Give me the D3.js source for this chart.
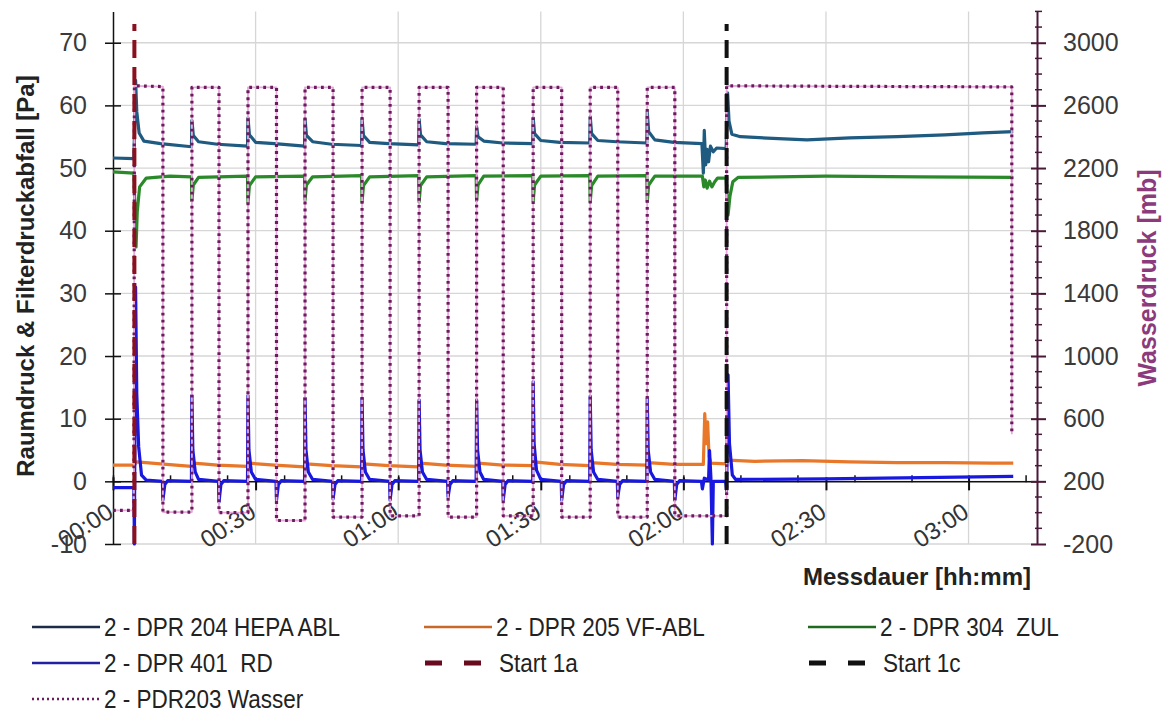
<!DOCTYPE html>
<html><head><meta charset="utf-8">
<script src="https://cdn.jsdelivr.net/npm/d3@7"></script>
<style>
html,body{margin:0;padding:0;background:#fff;}
svg{display:block;font-family:"Liberation Sans",Arial,sans-serif;}
</style></head>
<body><svg id="c" width="1163" height="716"></svg>
<script>
// ---- data (time in minutes since 00:00) ----
const xTickMinutes = [0, 30, 60, 90, 120, 150, 180];
const xTickLabels = ["00:00", "00:30", "01:00", "01:30", "02:00", "02:30", "03:00"];
const xMinorMinutes = [0, 12, 24, 36, 48, 60, 72, 84, 96, 108, 120, 132, 144, 156, 168, 180, 192];
const leftTicks = [-10, 0, 10, 20, 30, 40, 50, 60, 70];
const rightTicks = [-200, 200, 600, 1000, 1400, 1800, 2200, 2600, 3000];
const rightMinor = [-100, 0, 100, 300, 400, 500, 700, 800, 900, 1100, 1200, 1300, 1500, 1600, 1700, 1900, 2000, 2100, 2300, 2400, 2500, 2700, 2800, 2900, 3100, 3200];

const hepaABL = [[0,51.6],[4.4,51.5],[4.75,64.0],[5.0,59.0],[5.5,55.6],[6.5,54.3],[10.0,53.9],[16.5,53.4],
[16.6,57.6],[16.9,55.2],[18.0,54.2],[22.0,53.8],[28.3,53.5],
[28.4,58.0],[28.7,55.3],[30.0,54.1],[34.0,53.9],[40.3,53.5],
[40.4,57.8],[40.7,55.2],[42.0,54.2],[46.0,53.8],[52.3,53.6],
[52.4,57.8],[52.7,55.2],[54.0,54.1],[58.0,53.9],[64.3,53.7],
[64.4,57.8],[64.7,55.3],[66.0,54.2],[70.0,53.9],[76.4,53.8],
[76.5,56.6],[76.8,55.0],[78.0,54.3],[82.0,54.0],[88.3,53.9],
[88.4,58.0],[88.7,55.5],[90.0,54.4],[94.0,54.1],[100.3,54.0],
[100.4,58.2],[100.7,55.5],[102.0,54.4],[106.0,54.2],[112.3,54.0],
[112.4,59.0],[112.7,55.8],[114.0,54.5],[118.0,54.1],[123.9,53.9],
[124.2,49.2],[124.4,56.0],[124.7,50.5],[125.0,53.0],[125.3,51.0],[125.7,53.5],[126.3,52.6],[127.0,53.2],[129.0,53.1],
[129.3,62.0],[129.6,57.5],[130.2,55.4],[132.0,55.0],[140.0,54.7],[146.0,54.5],[155.0,54.8],[165.0,55.0],[175.0,55.3],[183.0,55.6],[189.4,55.8]];

const vfABL = [[0,2.6],[4.5,2.6],[5.0,3.1],[10.0,2.8],[16.5,2.4],[17.0,2.9],[22.0,2.6],[28.3,2.4],[28.6,2.9],[34.0,2.6],
[40.3,2.3],[40.6,2.8],[46.0,2.5],[52.3,2.3],[52.6,2.8],[58.0,2.5],[64.3,2.3],[64.6,2.9],[70.0,2.6],[76.4,2.4],[76.7,2.9],
[82.0,2.6],[88.3,2.5],[88.6,3.1],[94.0,2.7],[100.3,2.5],[100.6,3.0],[106.0,2.7],[112.3,2.6],[112.6,3.0],[118.0,2.7],
[124.2,2.7],[124.5,10.8],[124.8,6.0],[125.1,9.5],[125.4,4.0],[125.8,2.9],[129.0,2.8],[129.3,3.4],[135.0,3.2],[145.0,3.3],
[155.0,3.1],[165.0,3.0],[175.0,3.0],[185.0,2.9],[189.4,2.9]];

const zul = [[0,49.4],[4.4,49.2],[4.85,37.4],[5.1,43.0],[5.6,47.0],[7.0,48.4],[12.0,48.7],[16.5,48.6],
[16.6,44.8],[16.9,47.3],[18.0,48.5],[28.3,48.7],
[28.4,44.5],[28.7,47.2],[30.0,48.6],[40.3,48.7],
[40.4,44.9],[40.7,47.3],[42.0,48.6],[52.3,48.8],
[52.4,44.6],[52.7,47.2],[54.0,48.6],[64.3,48.8],
[64.4,44.6],[64.7,47.2],[66.0,48.6],[76.4,48.8],
[76.5,44.8],[76.8,47.3],[78.0,48.7],[88.3,48.8],
[88.4,44.7],[88.7,47.3],[90.0,48.7],[100.3,48.8],
[100.4,44.6],[100.7,47.2],[102.0,48.7],[112.3,48.8],
[112.4,44.6],[112.7,47.3],[114.0,48.7],[124.0,48.7],
[124.3,47.0],[124.6,48.1],[125.0,46.8],[125.5,47.9],[126.0,47.0],[126.6,47.8],[127.2,48.4],[129.0,48.4],
[129.4,42.5],[129.8,45.5],[130.4,47.8],[131.5,48.5],[150.0,48.7],[170.0,48.6],[189.4,48.5]];

const rd = [[0,-1.0],[4.4,-1.0],[4.5,-10.0],[4.75,31.0],[5.0,14.0],[5.4,5.5],[6.0,1.0],[7.0,0.2],[10.4,0.0],
[10.5,-3.0],[10.9,-0.5],[11.5,0.1],[16.5,0.0],
[16.6,13.7],[16.8,5.0],[17.3,1.5],[18.0,0.3],[22.2,0.0],
[22.3,-3.3],[22.7,-0.5],[23.3,0.1],[28.3,0.0],
[28.4,13.7],[28.6,5.0],[29.1,1.5],[30.0,0.3],[34.3,0.0],
[34.4,-3.0],[34.8,-0.5],[35.4,0.1],[40.3,0.0],
[40.4,13.3],[40.6,5.0],[41.1,1.5],[42.0,0.3],[46.2,0.0],
[46.3,-2.8],[46.7,-0.5],[47.3,0.1],[52.3,0.0],
[52.4,13.3],[52.6,5.0],[53.1,1.5],[54.0,0.3],[58.2,0.0],
[58.3,-3.0],[58.7,-0.5],[59.3,0.1],[64.3,0.0],
[64.4,13.0],[64.6,5.0],[65.1,1.5],[66.0,0.3],[70.4,0.0],
[70.5,-2.5],[70.9,-0.5],[71.5,0.1],[76.4,0.0],
[76.5,13.0],[76.7,5.0],[77.2,1.5],[78.0,0.3],[82.0,0.0],
[82.1,-3.0],[82.5,-0.5],[83.1,0.1],[88.3,0.0],
[88.4,15.9],[88.6,6.0],[89.1,1.8],[90.0,0.3],[94.3,0.0],
[94.4,-3.0],[94.8,-0.5],[95.4,0.1],[100.3,0.0],
[100.4,13.6],[100.6,5.0],[101.1,1.5],[102.0,0.3],[106.1,0.0],
[106.2,-2.5],[106.6,-0.5],[107.2,0.1],[112.3,0.0],
[112.4,13.3],[112.6,5.0],[113.1,1.5],[114.0,0.3],[118.1,0.0],
[118.2,-3.0],[118.6,-0.5],[119.2,0.1],[123.8,0.0],
[124.0,-1.2],[124.4,0.5],[125.3,0.2],[125.5,4.9],[125.8,0.5],[126.1,-10.0],[126.3,0.0],[128.9,0.0],
[129.1,-1.5],[129.4,17.0],[129.7,6.0],[130.3,1.0],[131.0,0.3],[150.0,0.4],[170.0,0.6],[189.4,0.8]];

const wasser = [[0,15],[4.4,15],[4.5,2725],[10.5,2720],[10.5,4],[16.6,4],[16.6,2715],[22.3,2715],[22.3,0],[28.4,0],
[28.4,2715],[34.4,2715],[34.4,-50],[40.4,-50],[40.4,2715],[46.3,2715],[46.3,-28],[52.4,-28],[52.4,2715],[58.3,2715],
[58.3,-20],[64.4,-20],[64.4,2715],[70.5,2715],[70.5,-28],[76.5,-28],[76.5,2715],[82.1,2715],[82.1,-20],[88.4,-20],
[88.4,2715],[94.4,2715],[94.4,-28],[100.4,-28],[100.4,2715],[106.2,2715],[106.2,-28],[112.4,-28],[112.4,2715],[118.2,2715],
[118.2,-20],[129.1,-20],[129.1,2725],[150,2722],[170,2720],[189.1,2718],[189.1,500]];

const startTimes = [4.5, 129.1];
const startRange = [-10, 73];

const legendLabels = ["2 - DPR 204 HEPA ABL", "2 - DPR 205 VF-ABL", "2 - DPR 304  ZUL",
                      "2 - DPR 401  RD", "Start 1a", "Start 1c", "2 - PDR203 Wasser"];

// ---- layout ----
const svg = d3.select("#c");
const x = d3.scaleLinear([0, 194.4], [113, 1037]);
const yL = d3.scaleLinear([-10, 75], [544, 11.4]);
const yR = d3.scaleLinear([-200, 3200], [544, 11.4]);
const plainNum = d => String(d);

const col = {hepa:"#1f5a80", vf:"#e8772a", zul:"#2a8a2a", rd:"#1818e0", s1a:"#8a1020", s1c:"#111", w:"#6e1a5e", wHalo:"#e7a9dc"};

// grid
svg.append("g").selectAll("line").data(leftTicks).join("line")
  .attr("x1", x(0)).attr("x2", x(194.4)).attr("y1", d=>yL(d)).attr("y2", d=>yL(d))
  .attr("stroke", "#d6d6d6").attr("stroke-width", 1.3);
svg.append("g").selectAll("line").data(xTickMinutes.slice(1)).join("line")
  .attr("x1", d=>x(d)).attr("x2", d=>x(d)).attr("y1", yL(75)).attr("y2", yL(-10))
  .attr("stroke", "#d6d6d6").attr("stroke-width", 1.3);

// x axis at y=0
const gx = svg.append("g").attr("transform", `translate(0,${yL(0)})`)
  .call(d3.axisBottom(x).tickValues(xMinorMinutes).tickFormat("").tickSize(0).tickSizeOuter(0));
gx.select(".domain").attr("stroke", "#111").attr("stroke-width", 1.5);
gx.selectAll(".tick line").attr("y1", -6).attr("y2", 1).attr("stroke", "#111").attr("stroke-width", 1.5);
const gxM = svg.append("g").attr("transform", `translate(0,${yL(0)})`)
  .call(d3.axisBottom(x).tickValues(xTickMinutes).tickFormat("").tickSize(9).tickSizeOuter(0));
gxM.select(".domain").remove();
gxM.selectAll(".tick line").attr("y1", -4).attr("stroke", "#111").attr("stroke-width", 2);

// x tick labels (bottom, rotated)
svg.append("g").selectAll("text").data(xTickMinutes).join("text")
  .attr("transform", d=>`translate(${x(d)+2},516) rotate(-33)`)
  .attr("text-anchor", "end").attr("font-size", 24).attr("fill", "#333")
  .text((d,i)=>xTickLabels[i]);

// left axis
const gl = svg.append("g").attr("transform", `translate(${x(0)},0)`)
  .call(d3.axisLeft(yL).tickValues(leftTicks).tickFormat(plainNum).tickSize(8).tickPadding(18).tickSizeOuter(0));
gl.select(".domain").attr("stroke", "#111").attr("stroke-width", 1.5);
gl.selectAll(".tick line").attr("x2", -8).attr("x1", 8).attr("stroke", "#111").attr("stroke-width", 1.5);
gl.selectAll(".tick text").attr("font-size", 25).attr("fill", "#3a3a3a").attr("font-family", "Liberation Sans, Arial");

// right axis
const gr = svg.append("g").attr("transform", `translate(${x(194.4)},0)`)
  .call(d3.axisRight(yR).tickValues(rightTicks).tickFormat(plainNum).tickSize(8).tickPadding(18).tickSizeOuter(0));
gr.select(".domain").attr("stroke", "#4a1838").attr("stroke-width", 2);
gr.selectAll(".tick line").attr("x1", -6).attr("x2", 9).attr("stroke", "#4a1838").attr("stroke-width", 2);
gr.selectAll(".tick text").attr("font-size", 25).attr("fill", "#3a3a3a").attr("font-family", "Liberation Sans, Arial");
svg.append("g").selectAll("line").data(rightMinor).join("line")
  .attr("x1", x(194.4)-2).attr("x2", x(194.4)+5).attr("y1", d=>yR(d)).attr("y2", d=>yR(d))
  .attr("stroke", "#4a1838").attr("stroke-width", 1.5);

// axis titles
svg.append("text").attr("transform", "translate(34,276) rotate(-90)").attr("text-anchor", "middle")
  .attr("font-size", 24).attr("font-weight", "bold").attr("fill", "#222")
  .text("Raumdruck & Filterdruckabfall [Pa]");
svg.append("text").attr("transform", "translate(1156,278) rotate(-90)").attr("text-anchor", "middle")
  .attr("font-size", 25).attr("font-weight", "bold").attr("fill", "#8b3a7b")
  .text("Wasserdruck [mb]");
svg.append("text").attr("x", 1031).attr("y", 585).attr("text-anchor", "end")
  .attr("font-size", 24).attr("font-weight", "bold").attr("fill", "#222")
  .text("Messdauer [hh:mm]");

// series
const lineL = d3.line().x(d=>x(d[0])).y(d=>yL(d[1]));
const lineR = d3.line().x(d=>x(d[0])).y(d=>yR(d[1]));
const plot = svg.append("g").attr("fill", "none").attr("stroke-linejoin", "round");
plot.append("path").attr("d", lineL(hepaABL)).attr("stroke", col.hepa).attr("stroke-width", 3.2);
plot.append("path").attr("d", lineL(vfABL)).attr("stroke", col.vf).attr("stroke-width", 3.2);
plot.append("path").attr("d", lineL(zul)).attr("stroke", col.zul).attr("stroke-width", 3.2);
plot.append("path").attr("d", lineL(rd)).attr("stroke", col.rd).attr("stroke-width", 3.2);
plot.append("path").attr("d", lineR(wasser)).attr("stroke", col.wHalo).attr("stroke-width", 1.8);
plot.append("path").attr("d", lineR(wasser)).attr("stroke", col.w).attr("stroke-width", 3.2)
  .attr("stroke-dasharray", "2.8,4.2");
// start markers
plot.selectAll("line.start").data(startTimes).join("line").attr("class", "start")
  .attr("x1", d=>x(d)).attr("x2", d=>x(d)).attr("y1", yL(startRange[0])).attr("y2", yL(startRange[1]))
  .attr("stroke", (d,i)=> i===0 ? col.s1a : col.s1c).attr("stroke-width", 4).attr("stroke-dasharray", "18,9");

// legend
const legendStyles = [
  {c:"#1b2b48", dash:null, w:2.5}, {c:"#c8692a", dash:null, w:2.5}, {c:"#1e6a1e", dash:null, w:2.5},
  {c:"#2222a0", dash:null, w:2.5}, {c:"#6a0a1e", dash:"17,22", w:5}, {c:"#111", dash:"17,22", w:5},
  {c:"#6e1a5e", dash:"2,3", w:2.5}];
const legCols = [32, 424, 808], legRows = [627, 663, 699];
const lg = svg.append("g");
legendLabels.forEach((lab, i) => {
  const cx = legCols[i % 3], cy = legRows[Math.floor(i / 3)];
  const s = legendStyles[i];
  const isDash = s.dash && s.w > 3;
  lg.append("line").attr("x1", cx + (isDash ? 1 : 0)).attr("x2", cx + (isDash ? 57 : 68)).attr("y1", cy).attr("y2", cy)
    .attr("stroke", s.c).attr("stroke-width", s.w).attr("stroke-dasharray", s.dash);
  const t = lg.append("text").attr("x", cx + (isDash ? 75 : 72)).attr("y", cy).attr("dy", "0.36em")
    .attr("font-size", 25).attr("fill", "#222").style("white-space", "pre").attr("xml:space", "preserve").text(lab);
  const len = t.node().getComputedTextLength();
  t.attr("textLength", len * 0.9).attr("lengthAdjust", "spacingAndGlyphs");
});
</script></body></html>
